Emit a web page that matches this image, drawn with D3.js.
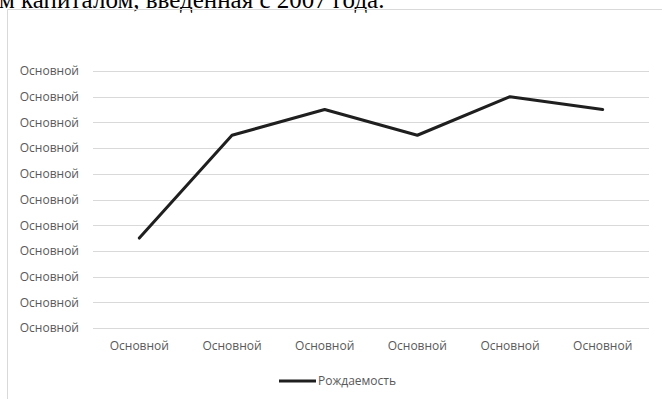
<!DOCTYPE html>
<html>
<head>
<meta charset="utf-8">
<script src="https://cdn.jsdelivr.net/npm/d3@7"></script>
<style>
  html, body { margin: 0; padding: 0; background: #fff; }
  svg { display: block; }
</style>
</head>
<body>
<svg id="chart" width="662" height="399"></svg>
<script>
// Birth-rate line chart with placeholder axis captions
const categories = ["c1", "c2", "c3", "c4", "c5", "c6"];
const categoryLabels = ["Основной", "Основной", "Основной", "Основной", "Основной", "Основной"];
const birthRate = [3.5, 7.5, 8.5, 7.5, 9, 8.5];
const yTicks = [0, 1, 2, 3, 4, 5, 6, 7, 8, 9, 10];
const yTickLabel = "Основной";
const seriesName = "Рождаемость";
const headingText = "м капиталом, введенная с 2007 года.";

const svg = d3.select("#chart");
const labelFont = "'Open Sans', 'Noto Sans', sans-serif";

// Tail of the document paragraph running above the chart frame
svg.append("text")
  .attr("x", -1).attr("y", 8)
  .attr("font-family", "'Liberation Serif', 'Times New Roman', serif")
  .attr("font-size", 25)
  .attr("fill", "#000")
  .text(headingText);

// Chart frame (open on the right)
svg.append("path")
  .attr("d", "M7.5,399 V9.5 H662")
  .attr("fill", "none")
  .attr("stroke", "#d9d9d9")
  .attr("stroke-width", 1);

const plot = { left: 93, right: 649, top: 71, bottom: 328 };

const x = d3.scaleBand().domain(categories).range([plot.left, plot.right]);
const y = d3.scaleLinear().domain([0, 10]).range([plot.bottom, plot.top]);

// Horizontal gridlines
svg.append("g")
  .selectAll("line")
  .data(yTicks)
  .join("line")
  .attr("x1", plot.left).attr("x2", plot.right)
  .attr("y1", d => Math.round(y(d)) + 0.5)
  .attr("y2", d => Math.round(y(d)) + 0.5)
  .attr("stroke", "#d9d9d9")
  .attr("stroke-width", 1);

// Y axis labels
const yAxis = d3.axisLeft(y).tickValues(yTicks).tickFormat(() => yTickLabel).tickSize(0).tickPadding(14);
const yg = svg.append("g").attr("transform", `translate(${plot.left},0)`).call(yAxis);
yg.select(".domain").remove();
yg.selectAll("text")
  .attr("font-family", labelFont)
  .attr("font-size", 12)
  .attr("fill", "#595959");

// X axis labels
const xAxis = d3.axisBottom(x).tickFormat((d, i) => categoryLabels[i]).tickSize(0).tickPadding(13);
const xg = svg.append("g").attr("transform", `translate(0,${plot.bottom})`).call(xAxis);
xg.select(".domain").remove();
xg.selectAll("text")
  .attr("font-family", labelFont)
  .attr("font-size", 12)
  .attr("fill", "#595959");

// Series line
const line = d3.line()
  .x((d, i) => x(categories[i]) + x.bandwidth() / 2)
  .y(d => y(d));

svg.append("path")
  .datum(birthRate)
  .attr("d", line)
  .attr("fill", "none")
  .attr("stroke", "#1f1f1f")
  .attr("stroke-width", 3)
  .attr("stroke-linejoin", "round")
  .attr("stroke-linecap", "round");

// Legend
const legend = svg.append("g").attr("transform", "translate(279,381)");
legend.append("line")
  .attr("x1", 0).attr("x2", 37)
  .attr("y1", 0).attr("y2", 0)
  .attr("stroke", "#1f1f1f")
  .attr("stroke-width", 3);
legend.append("text")
  .attr("x", 39).attr("y", 0)
  .attr("dy", "0.35em")
  .attr("font-family", labelFont)
  .attr("font-size", 12)
  .attr("fill", "#595959")
  .text(seriesName);
</script>
</body>
</html>
